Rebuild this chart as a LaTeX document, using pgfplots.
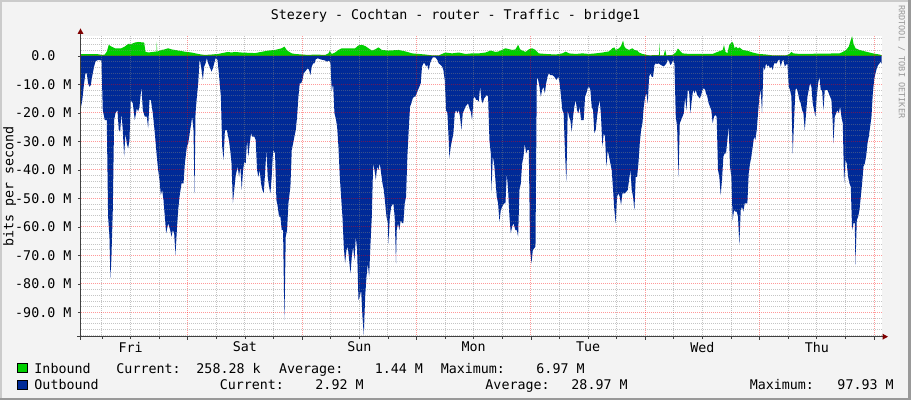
\documentclass[border=0pt]{standalone}
\usepackage{pgfplots}
\pgfplotsset{compat=1.18}
\usepackage{fontspec}
\setmainfont{DejaVu Sans Mono}

\definecolor{inc}{HTML}{00CF00}
\definecolor{outc}{HTML}{002A97}
\definecolor{backc}{HTML}{F3F3F3}
\definecolor{shadea}{HTML}{CBCBCB}
\definecolor{shadeb}{HTML}{999999}
\definecolor{arrowc}{HTML}{7F0000}
\definecolor{axisc}{HTML}{404040}

% x = hours since Thursday midnight, y = bits per second in M
\pgfplotstableread{
h v
1.6 0.6
5.19 0.6
6.03 0.35
6.59 0.5
7.01 1.5
7.43 3.9
7.99 3.3
8.69 2.7
10.09 2.7
10.79 3.3
11.49 4.2
12.19 4.2
12.89 4.7
13.59 4.9
14.85 4.7
15.13 1.5
15.69 1.2
17.09 1.5
17.44 1.5
17.51 5.0
17.58 1.5
18.49 2.1
19.19 2.3
19.89 2.7
20.59 2.3
21.29 2.1
21.99 1.9
23.39 1.5
24.79 1.2
26.19 0.7
26.89 0.5
27.59 0.35
28.99 0.5
30.39 0.7
31.79 1.2
32.49 1.4
33.19 1.2
33.89 1.4
35.32 1.2
38.12 1.0
40.92 1.9
42.32 2.1
43.72 2.7
44.28 3.3
44.84 1.9
45.82 0.9
46.52 0.7
47.92 0.5
49.32 0.35
50.72 0.5
52.82 0.35
53.52 0.9
53.80 1.8
54.22 0.7
54.92 1.2
55.62 2.1
56.32 2.7
59.12 2.7
59.82 3.7
60.52 3.9
61.22 3.5
61.92 2.7
62.62 1.9
63.32 2.3
64.02 3.0
64.72 2.1
66.12 1.9
68.26 2.1
69.66 1.6
71.06 0.9
72.46 0.7
73.86 0.5
75.26 0.2
76.66 0.2
77.36 0.7
78.06 1.2
79.46 0.9
80.86 1.2
82.26 0.7
83.66 0.9
85.06 0.9
86.46 1.2
87.58 1.9
88.56 1.4
89.26 1.6
90.66 2.7
92.06 2.1
92.76 2.3
93.32 3.9
93.74 2.3
94.86 1.4
95.56 2.3
96.26 2.7
96.96 2.1
97.66 0.9
99.06 0.7
101.2 0.5
102.6 0.9
103.3 1.5
104.0 0.9
105.4 0.7
106.8 0.9
108.2 0.7
109.6 0.9
111.0 1.2
111.7 1.4
112.4 1.6
113.1 2.7
113.52 3.0
113.8 2.1
114.5 2.7
114.92 3.5
115.34 5.4
115.62 3.3
115.9 2.7
116.6 2.1
117.3 2.7
117.72 2.1
118.28 1.9
118.7 1.2
119.4 0.7
120.8 0.2
122.88 0.35
122.97 4.7
123.06 0.2
123.88 0.2
124.16 2.3
124.44 0.2
125.7 0.35
126.4 1.2
126.82 2.6
127.24 1.9
127.8 0.9
129.2 0.7
132.0 0.7
134.14 0.7
134.84 1.2
136.24 2.1
136.52 3.9
136.8 1.5
137.22 0.9
137.64 3.9
137.92 4.4
138.2 5.0
138.48 4.4
138.76 2.6
139.04 3.3
139.46 2.6
139.74 3.0
140.44 2.1
141.14 1.9
141.84 1.6
142.54 1.2
143.24 0.9
143.94 0.7
145.34 0.5
146.74 0.2
149.54 0.2
150.24 0.7
150.66 1.4
151.08 0.9
152.34 0.7
160.74 0.9
161.44 1.4
162.14 2.1
162.7 3.3
163.12 5.6
163.4 6.97
163.68 4.4
164.1 2.7
164.94 2.1
166.34 1.5
167.74 0.9
169.14 0.5
169.6 0.26
}\inbound

\pgfplotstableread{
h v
1.6 -17.8
1.83 -16.0
2.25 -9.6
2.53 -6.1
2.81 -6.1
3.09 -9.6
3.37 -10.8
3.65 -10.2
3.93 -7.3
4.35 -3.7
4.63 -2.0
4.91 -1.6
5.33 -1.4
5.89 -1.6
6.17 -19.0
6.59 -22.5
7.01 -22.5
7.29 -56.4
7.57 -63.4
7.78 -78.0
7.99 -70.4
8.27 -54.1
8.55 -22.5
8.83 -20.1
9.25 -19.0
9.53 -26.0
9.81 -26.6
10.09 -20.1
10.37 -26.0
10.65 -35.3
10.93 -27.1
11.21 -30.7
11.49 -32.4
11.77 -29.5
12.05 -15.4
12.47 -16.6
12.89 -22.5
13.31 -18.4
13.59 -19.5
13.87 -17.8
14.29 -10.8
14.57 -19.0
14.99 -21.3
15.41 -21.3
15.69 -25.4
15.97 -15.4
16.25 -15.4
16.67 -20.1
17.09 -27.1
17.51 -35.3
17.79 -40.0
18.07 -43.5
18.35 -48.8
18.63 -47.0
18.91 -50.5
19.19 -56.4
19.47 -62.2
19.89 -58.7
20.31 -61.1
20.59 -63.4
20.87 -61.1
21.15 -62.2
21.43 -69.8
21.71 -61.1
21.99 -54.1
22.27 -49.4
22.69 -44.7
23.11 -44.7
23.39 -37.7
23.81 -31.8
24.09 -30.7
24.51 -26.0
24.93 -21.3
25.21 -26.0
25.42 -48.2
25.63 -20.1
25.91 -14.3
26.19 -9.6
26.47 -1.4
26.61 -2.0
26.89 -4.9
27.17 -8.4
27.45 -3.7
27.73 -2.6
28.01 -0.8
28.29 -2.6
28.57 -3.7
28.99 -5.5
29.27 -4.3
29.55 -2.6
29.83 -0.8
30.25 -1.4
30.53 -6.1
30.95 -14.3
31.23 -31.8
31.51 -36.5
31.79 -26.0
32.21 -26.0
32.63 -29.5
32.91 -33.0
33.19 -37.7
33.47 -51.7
33.75 -47.0
34.03 -42.4
34.31 -40.0
34.48 -38.8
34.76 -42.4
35.04 -38.8
35.32 -47.0
35.60 -40.0
35.88 -37.1
36.16 -37.7
36.44 -29.5
36.72 -35.3
37.00 -30.7
37.28 -27.1
37.56 -28.3
37.98 -28.3
38.26 -29.5
38.54 -40.0
38.82 -42.4
39.10 -40.0
39.38 -44.7
39.66 -47.0
39.94 -48.2
40.22 -41.2
40.50 -33.0
40.78 -42.4
41.06 -45.9
41.34 -48.2
41.62 -42.4
41.90 -33.0
42.32 -34.2
42.60 -50.5
42.88 -52.9
43.16 -56.4
43.44 -56.4
43.72 -61.1
44.00 -61.1
44.28 -92.7
44.56 -63.4
44.84 -61.1
45.12 -51.7
45.54 -45.9
45.82 -33.0
46.10 -30.7
46.38 -28.3
46.66 -26.0
46.94 -21.3
47.22 -14.3
47.50 -9.6
47.78 -9.6
48.06 -8.4
48.34 -6.1
48.62 -5.5
48.90 -4.9
49.18 -4.3
49.46 -4.9
49.74 -6.7
50.02 -3.7
50.30 -2.6
50.58 -2.6
50.86 -1.2
51.28 -0.8
51.84 -1.2
52.40 -1.4
52.82 -1.6
53.24 -2.0
53.66 -1.6
53.94 -2.6
54.22 -12.5
54.50 -9.6
54.78 -20.1
55.06 -21.9
55.34 -24.8
55.62 -31.8
55.90 -42.4
56.18 -49.4
56.46 -56.4
56.74 -66.9
57.02 -72.8
57.30 -68.1
57.58 -66.9
57.86 -71.6
58.14 -76.3
58.42 -70.4
58.70 -66.9
58.98 -71.6
59.26 -63.4
59.54 -68.1
59.82 -85.6
60.10 -84.5
60.38 -82.1
60.66 -91.5
60.94 -97.9
61.22 -84.5
61.50 -77.5
61.78 -72.8
62.06 -77.5
62.34 -65.8
62.62 -56.4
62.90 -37.7
63.18 -40.0
63.46 -43.5
63.74 -38.8
64.02 -40.0
64.30 -37.7
64.58 -41.2
64.86 -44.7
65.14 -47.0
65.42 -51.7
65.70 -56.4
65.98 -58.7
66.12 -65.8
66.40 -56.4
66.68 -52.9
67.14 -51.7
67.42 -56.4
67.70 -72.8
67.84 -61.1
68.12 -58.7
68.40 -61.1
68.68 -57.6
68.96 -58.7
69.24 -58.7
69.52 -51.7
69.80 -49.4
70.08 -35.3
70.36 -26.0
70.64 -17.8
70.92 -16.6
71.20 -14.9
71.48 -14.3
71.76 -14.3
72.04 -13.1
72.32 -11.9
72.60 -10.8
72.88 -9.6
73.16 -3.7
73.44 -2.6
73.72 -2.6
74.00 -3.7
74.28 -3.2
74.56 -4.9
74.84 -2.6
75.12 -1.4
75.40 -0.5
75.96 -0.5
76.38 -1.4
76.66 -2.6
77.08 -3.2
77.36 -3.7
77.64 -4.9
77.92 -8.4
78.20 -19.0
78.48 -20.1
78.76 -29.5
78.90 -35.9
79.18 -31.8
79.46 -29.5
79.74 -27.1
80.02 -20.1
80.30 -19.0
80.58 -20.1
80.86 -19.0
81.14 -21.3
81.42 -26.0
81.70 -20.1
81.98 -19.0
82.26 -17.8
82.54 -17.2
82.82 -16.6
83.10 -18.4
83.38 -19.5
83.66 -22.5
83.94 -14.9
84.22 -14.3
84.50 -15.4
84.78 -15.4
85.06 -16.0
85.34 -10.8
85.62 -15.4
85.90 -16.6
86.18 -14.9
86.46 -14.3
86.74 -13.7
87.02 -14.3
87.30 -29.5
87.58 -34.2
87.72 -47.6
88.00 -35.3
88.28 -37.7
88.56 -43.5
88.84 -49.4
89.12 -51.7
89.40 -58.1
89.68 -54.1
89.96 -52.9
90.38 -51.7
90.66 -51.7
90.94 -41.2
91.22 -47.0
91.50 -56.4
91.78 -62.2
92.06 -59.9
92.34 -58.7
92.76 -61.1
93.04 -61.1
93.32 -63.4
93.60 -47.0
93.88 -44.7
94.16 -37.7
94.44 -35.3
94.72 -30.7
95.00 -34.2
95.28 -33.0
95.56 -33.0
95.84 -68.1
96.12 -72.8
96.40 -68.1
96.68 -67.5
96.96 -66.9
97.24 -7.3
97.52 -8.4
97.80 -10.8
98.08 -14.3
98.36 -11.9
98.64 -10.8
98.92 -13.1
99.20 -9.6
99.48 -7.3
99.76 -6.1
100.08 -6.7
100.50 -6.7
100.92 -7.3
101.34 -8.4
101.76 -7.3
102.04 -9.6
102.32 -14.3
102.60 -19.0
102.88 -20.1
103.16 -34.2
103.44 -44.1
103.72 -19.0
104.00 -21.3
104.28 -22.5
104.56 -26.6
104.84 -21.3
105.12 -17.8
105.40 -15.4
105.68 -19.0
105.96 -20.1
106.24 -17.8
106.52 -22.5
107.08 -22.5
107.36 -14.3
107.64 -13.1
107.92 -11.3
108.20 -10.8
108.48 -11.9
108.76 -17.8
109.04 -19.0
109.32 -27.1
109.60 -26.0
109.88 -21.3
110.16 -17.8
110.44 -15.4
110.72 -21.3
111.00 -31.8
111.28 -27.1
111.56 -28.3
111.84 -38.8
112.12 -33.0
112.40 -35.3
112.68 -37.7
112.96 -40.0
113.24 -47.0
113.52 -54.1
113.80 -58.7
114.08 -49.4
114.36 -48.2
114.64 -49.4
114.92 -52.3
115.20 -48.2
115.76 -48.2
116.04 -47.6
116.32 -47.0
116.60 -43.5
116.88 -40.0
117.16 -47.0
117.44 -49.4
117.72 -54.1
118.00 -42.4
118.28 -42.4
118.56 -37.7
118.84 -30.7
119.12 -26.0
119.40 -23.6
119.68 -17.8
119.96 -14.3
120.24 -13.1
120.52 -16.6
120.80 -7.3
121.08 -6.1
121.36 -7.3
121.64 -7.3
121.92 -3.2
122.20 -2.6
122.48 -2.8
122.76 -2.6
123.32 -3.2
123.88 -3.7
124.16 -3.2
124.44 -2.6
124.72 -1.2
125.00 -2.0
125.28 -3.2
125.56 -2.6
125.84 -1.4
126.12 -2.6
126.40 -21.3
126.68 -24.8
126.96 -42.4
127.24 -23.6
127.52 -22.5
127.80 -21.3
128.08 -20.1
128.36 -14.3
128.64 -19.0
128.92 -11.9
129.20 -12.5
129.48 -20.1
129.76 -15.4
130.04 -11.9
130.32 -13.1
130.60 -11.9
130.88 -13.7
131.16 -14.3
131.44 -14.9
131.72 -13.7
132.00 -11.9
132.28 -11.3
132.56 -11.9
132.74 -13.1
133.02 -14.3
133.30 -16.6
133.86 -19.0
134.14 -23.6
134.42 -21.3
134.70 -20.7
134.98 -21.3
135.26 -40.0
135.54 -42.4
135.82 -48.8
136.10 -43.5
136.38 -35.3
136.66 -34.2
136.94 -34.2
137.22 -29.5
137.50 -24.8
137.78 -38.8
138.06 -42.4
138.34 -57.6
138.62 -54.1
138.90 -54.6
139.18 -54.6
139.46 -56.4
139.74 -66.3
140.02 -54.1
140.30 -52.9
140.58 -54.6
140.86 -51.7
141.42 -51.7
141.70 -41.2
141.98 -37.7
142.26 -35.3
142.54 -31.8
142.82 -28.3
143.10 -29.5
143.38 -26.0
143.66 -20.1
143.94 -14.3
144.22 -11.9
144.50 -20.1
144.78 -3.7
145.06 -4.9
145.34 -2.6
145.62 -3.7
145.90 -3.2
146.18 -4.3
146.46 -3.7
146.74 -4.9
147.02 -2.6
147.58 -2.6
147.86 -1.6
148.14 -1.2
148.42 -3.7
148.70 -2.0
148.98 -1.2
149.26 -3.7
149.82 -2.6
150.10 -10.8
150.38 -11.9
150.66 -14.3
150.94 -34.2
151.22 -22.5
151.50 -11.9
151.78 -11.3
152.06 -13.1
152.34 -15.4
152.62 -16.6
152.90 -19.0
153.18 -20.1
153.46 -26.0
153.74 -20.1
154.02 -14.3
154.30 -11.9
154.58 -9.6
154.86 -10.8
155.14 -16.6
155.42 -19.0
155.70 -21.3
155.98 -14.3
156.26 -9.6
156.54 -7.3
156.82 -11.9
157.10 -11.9
157.38 -19.0
157.66 -11.9
158.22 -11.9
158.50 -13.1
158.78 -14.3
159.06 -15.4
159.34 -23.6
159.48 -30.7
159.76 -21.3
160.04 -20.1
160.32 -19.0
160.60 -20.1
160.88 -17.8
161.16 -21.3
161.44 -23.6
161.72 -44.7
162.00 -36.5
162.28 -37.7
162.56 -42.4
162.84 -44.7
163.12 -45.9
163.40 -61.1
163.68 -58.7
163.96 -58.7
164.10 -73.4
164.38 -57.6
164.66 -56.4
164.94 -54.1
165.22 -49.4
165.50 -44.7
165.78 -38.8
166.06 -37.7
166.34 -35.3
166.62 -30.7
166.90 -28.3
167.18 -24.8
167.46 -21.3
167.74 -13.1
168.02 -8.4
168.30 -6.1
168.58 -4.3
168.86 -3.2
169.14 -2.6
169.42 -2.0
169.6 -2.9
}\outbound

\begin{document}
\begin{tikzpicture}
% background and shading, in pixel units from the top left
\begin{scope}[x=0.75pt,y=-0.75pt,shift={(0pt,300pt)}]
  \fill[backc] (0,0) rectangle (911,400);
  \fill[shadea] (0,0) rectangle (911,2);
  \fill[shadea] (0,0) rectangle (2,400);
  \fill[shadeb] (908,0) rectangle (911,400);
  \fill[shadeb] (0,398) rectangle (911,400);
\end{scope}

\begin{axis}[
  at={(60.75pt,47.5pt)}, anchor=south west,
  scale only axis,
  width=600.5pt, height=225.5pt,
  xmin=1.6, xmax=169.6,
  ymin=-98.5, ymax=7,
  axis background/.style={fill=white},
  axis line style={draw=none},
  axis on top,
  tick align=outside,
  xtick pos=bottom, ytick pos=left,
  major tick length=2.25pt,
  minor tick length=1.5pt,
  every tick/.style={axisc, line width=0.6pt},
  minor y tick style={draw=none},
  xtick={24,48,72,96,120,144,168},
  xticklabels={},
  minor xtick={6,12,18,30,36,42,54,60,66,78,84,90,102,108,114,126,132,138,150,156,162},
  extra x ticks={12,36,60,84,108,132,156},
  extra x tick labels={Fri,Sat,Sun,Mon,Tue,Wed,Thu},
  extra x tick style={grid=none, major tick length=0pt,
    xticklabel style={inner sep=0pt, anchor=north, yshift=-3.75pt}},
  ytick={0,-10,-20,-30,-40,-50,-60,-70,-80,-90},
  yticklabels={0.0\phantom{xM},-10.0 M,-20.0 M,-30.0 M,-40.0 M,-50.0 M,-60.0 M,-70.0 M,-80.0 M,-90.0 M},
  minor ytick={-98,-96,-94,-92,-88,-86,-84,-82,-78,-76,-74,-72,-68,-66,-64,-62,-58,-56,-54,-52,-48,-46,-44,-42,-38,-36,-34,-32,-28,-26,-24,-22,-18,-16,-14,-12,-8,-6,-4,-2,2,4,6},
  yticklabel style={inner sep=0pt, anchor=east, xshift=-4.75pt},
  tick label style={font=\fontsize{10}{12}\selectfont, black},
  grid=both,
  major grid style={draw=red, opacity=0.4, line width=0.75pt, dash pattern=on 0.75pt off 0.75pt},
  minor grid style={draw=gray, opacity=0.45, line width=0.75pt, dash pattern=on 0.75pt off 0.75pt},
]
  \addplot[fill=inc, draw=none] table[x=h, y=v] {\inbound} \closedcycle;
  \addplot[fill=outc, draw=none] table[x=h, y=v] {\outbound} \closedcycle;
\end{axis}

% axis lines, arrows and texts, in pixel units from the top left
\begin{scope}[x=0.75pt,y=-0.75pt,shift={(0pt,300pt)}]
  \draw[axisc, line width=0.75pt] (80.5,33) -- (80.5,340);
  \draw[axisc, line width=0.75pt] (77,336.7) -- (883.5,336.7);
  \fill[arrowc] (80.5,28.5) -- (77.5,34) -- (83.5,34) -- cycle;
  \fill[arrowc] (888,336.7) -- (882.5,333.7) -- (882.5,339.7) -- cycle;

  \node[anchor=base, inner sep=0pt, font=\fontsize{10}{12}\selectfont] at (455.5,19.3)
    {Stezery - Cochtan - router - Traffic - bridge1};
  \node[rotate=90, anchor=base, inner sep=0pt, font=\fontsize{10}{12}\selectfont] at (13.3,186.3)
    {bits per second};
  \node[rotate=-90, anchor=west, inner sep=0pt, text=black!40, font=\fontsize{6.4}{7}\selectfont] at (901.7,5)
    {RRDTOOL / TOBI OETIKER};

  % legend
  \filldraw[fill=inc, draw=black, line width=0.75pt] (17.5,364) rectangle (27.5,372.7);
  \filldraw[fill=outc, draw=black, line width=0.75pt] (17.5,380.5) rectangle (27.5,389.2);
  \begin{scope}[every node/.style={anchor=base west, inner sep=0pt, font=\fontsize{10}{12}\selectfont}]
    \node at (34.2,373.3) {Inbound};
    \node at (116.2,373.3) {Current:};
    \node at (196.2,373.3) {258.28 k};
    \node at (278.8,373.3) {Average:};
    \node at (374.5,373.3) {1.44 M};
    \node at (440.5,373.3) {Maximum:};
    \node at (536.2,373.3) {6.97 M};
    \node at (34.2,389.3) {Outbound};
    \node at (219.5,389.3) {Current:};
    \node at (315.2,389.3) {2.92 M};
    \node at (485.2,389.3) {Average:};
    \node at (571.2,389.3) {28.97 M};
    \node at (749.5,389.3) {Maximum:};
    \node at (837.2,389.3) {97.93 M};
  \end{scope}
\end{scope}
\end{tikzpicture}
\end{document}
